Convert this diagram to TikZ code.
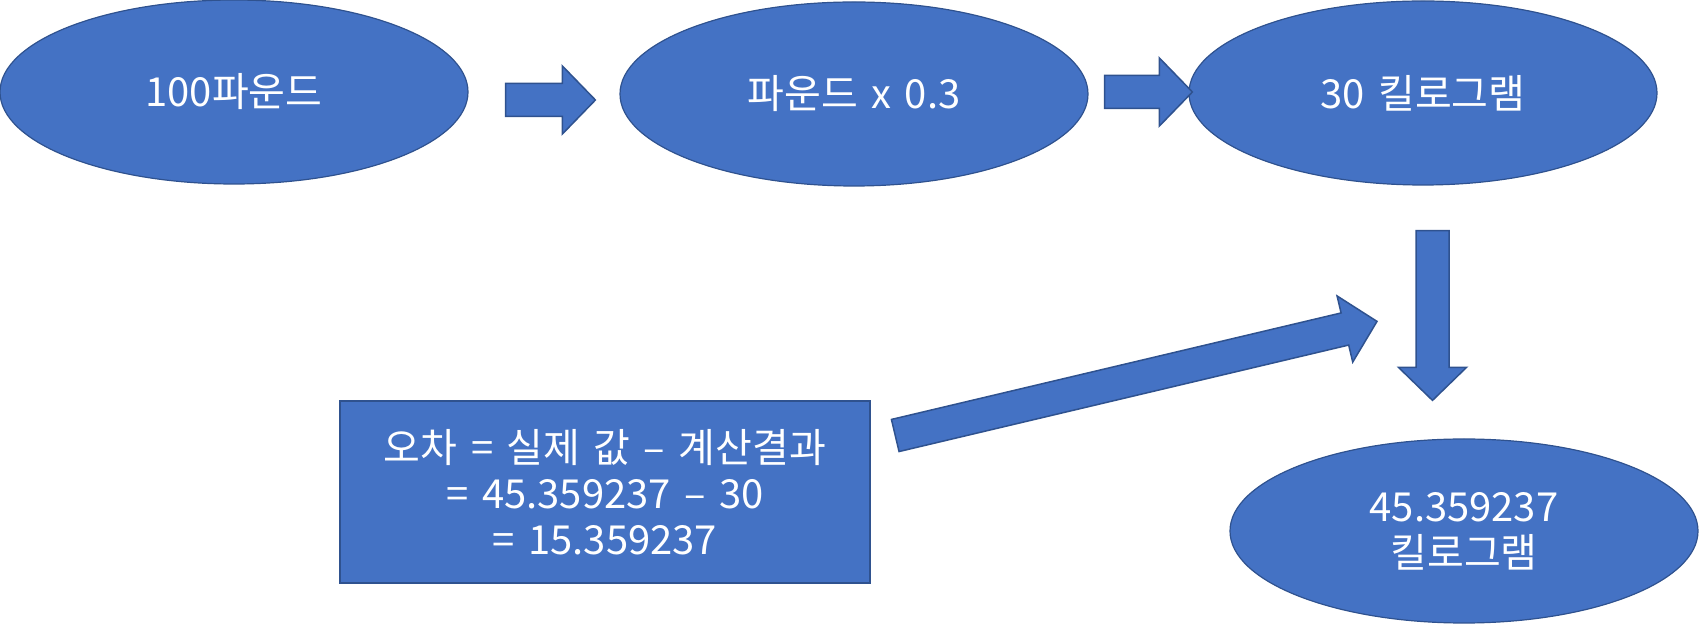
\documentclass[tikz,border=0pt]{standalone}
\usepackage{fontspec}
\usepackage{tikz}
\usetikzlibrary{calc,shapes.geometric}
\newfontfamily\kor[WordSpace=1.5]{Noto Sans CJK KR}
\definecolor{boxblue}{HTML}{4472C4}
\definecolor{boxline}{HTML}{2F528F}

% block arrow from #1 to the tip #2
\newcommand{\blockarrow}[2]{%
  \coordinate (h) at ($(#2)!16.5pt!(#1)$);
  \path[blk] ($(#1)!8.25pt!90:(#2)$) -- ($(h)!8.25pt!90:(#2)$) -- ($(h)!17pt!90:(#2)$)
    -- (#2) -- ($(h)!17pt!-90:(#2)$) -- ($(h)!8.25pt!-90:(#2)$) -- ($(#1)!8.25pt!-90:(#2)$) -- cycle;
}

\begin{document}
\begin{tikzpicture}[x=0.5pt,y=-0.5pt,
  every node/.style={text=white,font=\kor\fontsize{20}{23}\selectfont,align=center},
  oval/.style={ellipse,fill=boxblue,draw=boxline,line width=0.6pt,inner sep=0pt,minimum width=234pt,minimum height=92pt},
  errbox/.style={rectangle,fill=boxblue,draw=boxline,line width=0.75pt,inner sep=0pt,minimum width=265pt,minimum height=91pt},
  blk/.style={fill=boxblue,draw=boxline,line width=0.75pt,line join=miter}]
\useasboundingbox (0,0) rectangle (1699,625);

\node[oval] (pound) at (234,92) {100파운드};
\node[oval] (mult) at (854,94) {파운드 x 0.3};
\node[oval] (kg) at (1423,93) {30 킬로그램};
\node[oval] (real) at (1464,531) {45.359237\\킬로그램};
\node[errbox] (err) at (605,492) {오차 = 실제 값 – 계산결과\\= 45.359237 – 30\\= 15.359237};

\coordinate (a1s) at ($(pound.east)+(37,8)$);
\coordinate (a1e) at ($(mult.west)+(-24,6)$);
\coordinate (a2s) at ($(mult.east)+(16,-2)$);
\coordinate (a2e) at ($(kg.west)+(4,-1)$);
\coordinate (a3s) at ($(kg.south)+(9.5,45)$);
\coordinate (a3e) at ($(real.north)+(-31.5,-38)$);
\coordinate (a4s) at ($(err.east)+(24.5,-56.5)$);
\coordinate (a4e) at ($(real.north)+(-87,-117)$);

\foreach \s/\e in {a1s/a1e,a2s/a2e,a3s/a3e,a4s/a4e} {
  \blockarrow{\s}{\e}
}
\end{tikzpicture}
\end{document}
